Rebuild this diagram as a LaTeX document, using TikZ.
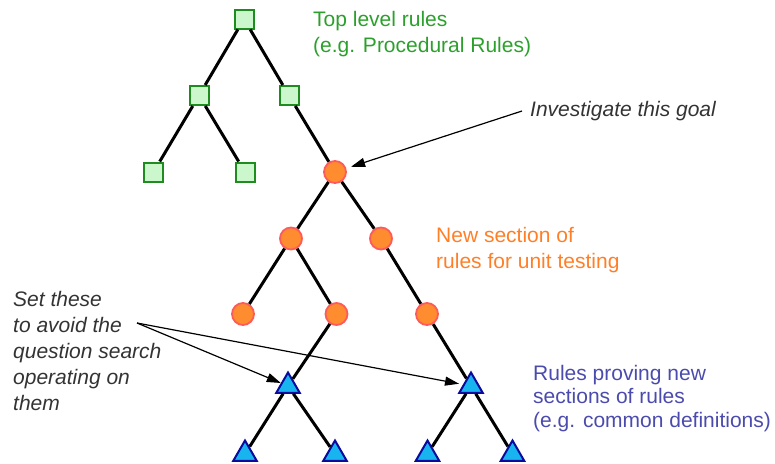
\documentclass[tikz,border=0pt]{standalone}
\usepackage{fontspec}
\setmainfont{Liberation Sans}
\usetikzlibrary{shapes.geometric,arrows.meta}
\definecolor{sqfill}{HTML}{CCF7CC}
\definecolor{sqdraw}{HTML}{1E8C1E}
\definecolor{cifill}{HTML}{FF8C2E}
\definecolor{cidraw}{HTML}{FF5A5A}
\definecolor{trfill}{HTML}{18B4F0}
\definecolor{trdraw}{HTML}{0A0A9C}
\definecolor{greentxt}{HTML}{2CA02C}
\definecolor{orangetxt}{HTML}{FF7F27}
\definecolor{bluetxt}{HTML}{4B4BAE}
\definecolor{notetxt}{HTML}{333333}
\begin{document}
\begin{tikzpicture}[x=1pt,y=-1pt,
  sq/.style={rectangle,draw=sqdraw,fill=sqfill,line width=2pt,minimum size=19pt,inner sep=0pt},
  ci/.style={circle,draw=cidraw,fill=cifill,line width=1.8pt,minimum size=22pt,inner sep=0pt},
  tri/.style={regular polygon,regular polygon sides=3,draw=trdraw,fill=trfill,line width=2pt,minimum size=27pt,inner sep=0pt},
  edge/.style={line width=3pt,black},
  note/.style={-{Triangle[length=14pt,width=9pt]},line width=1.2pt,black},
  lbl/.style={anchor=base west,align=left,inner sep=0pt,font=\fontsize{21}{25.5}\selectfont}]
\useasboundingbox (0,0) rectangle (775,463);
% green squares
\node[sq] (s0) at (244,19) {};
\node[sq] (s1) at (199,95.5) {};
\node[sq] (s2) at (289,95.5) {};
\node[sq] (s3) at (153.5,172) {};
\node[sq] (s4) at (245,172) {};
% orange circles
\node[ci] (c0) at (335,172) {};
\node[ci] (c1) at (291,238.5) {};
\node[ci] (c2) at (381,238.5) {};
\node[ci] (c3) at (243,314) {};
\node[ci] (c4) at (336.5,314) {};
\node[ci] (c5) at (427,314) {};
% blue triangles
\node[tri] (t0) at (288,386) {};
\node[tri] (t1) at (471,386) {};
\node[tri] (t2) at (245,454) {};
\node[tri] (t3) at (335,454) {};
\node[tri] (t4) at (427.5,454) {};
\node[tri] (t5) at (512.5,454) {};
% edges
\draw[edge] (s0) -- (s1);
\draw[edge] (s0) -- (s2);
\draw[edge] (s1) -- (s3);
\draw[edge] (s1) -- (s4);
\draw[edge] (s2) -- (c0);
\draw[edge] (c0) -- (c1);
\draw[edge] (c0) -- (c2);
\draw[edge] (c1) -- (c3);
\draw[edge] (c1) -- (c4);
\draw[edge] (c2) -- (c5);
\draw[edge] (c4) -- (t0);
\draw[edge] (c5) -- (t1);
\draw[edge] (t0) -- (t2);
\draw[edge] (t0) -- (t3);
\draw[edge] (t1) -- (t4);
\draw[edge] (t1) -- (t5);
% labels (base anchor = baseline of the last line)
\node[lbl,text=greentxt] (gtxt) at (313,52) {Top level rules\\(e.g. Procedural Rules)};
\node[lbl,text=notetxt,font=\fontsize{21}{25.5}\selectfont\itshape] (itxt) at (530,116) {Investigate this goal};
\node[lbl,text=orangetxt] (otxt) at (436,268) {New section of\\rules for unit testing};
\node[lbl,text=bluetxt,font=\fontsize{21}{23.5}\selectfont] (btxt) at (533,427) {Rules proving new\\sections of rules\\(e.g. common definitions)};
\node[lbl,text=notetxt,font=\fontsize{21}{25.8}\selectfont\itshape] (stxt) at (13,410) {Set these\\to avoid the\\question search\\operating on\\them};
% annotation arrows
\coordinate (ia) at (522,111);
\coordinate (sa) at (137,323);
\draw[note,shorten >=5pt] (ia) -- (c0);
\draw[note] (sa) -- (t0);
\draw[note,shorten >=4pt] (sa) -- (t1);
\end{tikzpicture}
\end{document}
